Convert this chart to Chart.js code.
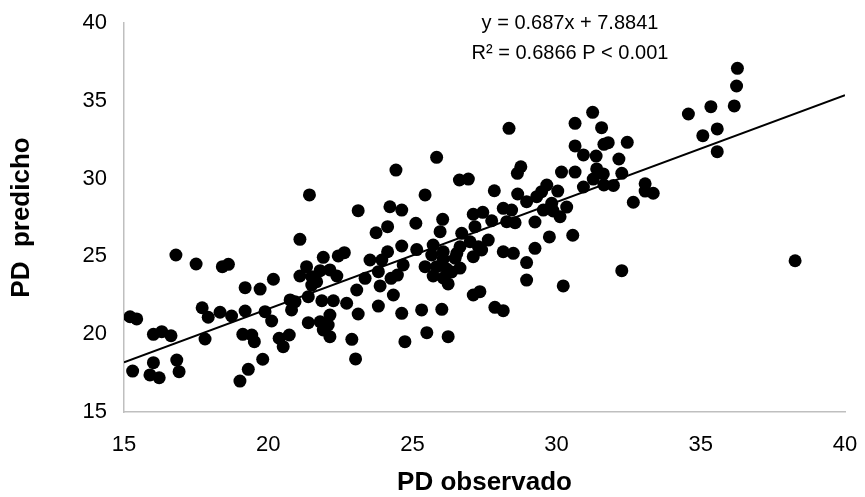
<!DOCTYPE html>
<html>
<head>
<meta charset="utf-8">
<script src="https://cdn.jsdelivr.net/npm/chart.js@4/dist/chart.umd.min.js"></script>
<style>
html,body{margin:0;padding:0;background:#fff;}
#wrap{width:865px;height:497px;}
</style>
</head>
<body>
<div id="wrap"><canvas id="c" width="865" height="497"></canvas></div>
<script>
const pdObservado = [16.80,17.50,18.41,18.62,20.18,19.20,19.72,15.21,15.44,17.71,17.92,18.33,18.73,19.20,19.89,20.12,16.02,16.31,16.63,17.81,19.12,19.43,19.52,20.38,20.73,20.52,16.02,16.83,15.30,15.90,16.22,16.91,19.81,19.31,19.02,20.76,
25.84,24.43,26.63,26.94,21.43,25.44,23.12,24.22,24.63,26.05,25.12,27.11,27.44,25.96,23.74,24.14,21.10,24.63,25.15,25.72,26.71,21.91,22.43,22.64,23.53,24.14,23.94,24.68,21.33,21.10,21.51,21.80,22.14,22.38,21.68,21.51,23.36,23.82,24.26,24.48,23.88,23.07,24.34,23.82,22.72,22.26,21.86,21.39,20.93,20.81,23.12,21.39,21.80,22.14,22.08,21.91,22.14,22.90,
24.63,25.32,26.02,24.74,25.50,26.24,23.03,27.11,27.34,27.86,28.15,
26.07,25.67,26.07,25.44,25.84,26.19,25.72,26.07,26.36,26.65,26.24,26.48,26.65,27.00,27.29,27.63,26.54,27.11,27.40,27.17,27.75,28.27,28.56,28.15,28.44,28.15,28.50,
31.25,30.64,31.56,28.35,30.64,30.93,31.37,31.64,31.79,32.45,32.16,32.26,33.07,33.07,33.35,32.66,30.17,30.64,31.39,31.27,31.62,31.64,31.97,30.93,28.76,28.64,27.84,28.65,29.66,29.48,29.31,30.04,28.96,29.54,29.83,30.35,29.88,30.12,29.25,29.25,28.96,29.75,30.56,28.96,30.23,32.26,
36.27,36.24,36.16,35.35,34.57,35.57,35.07,35.57,38.27];
const pdPredicho = [25.09,24.51,24.34,24.49,23.53,22.99,22.90,21.12,20.98,21.70,21.09,21.41,21.17,21.49,21.45,20.85,19.99,20.16,19.90,19.69,19.99,19.95,19.52,19.74,19.95,19.20,18.17,18.34,17.63,17.38,17.20,17.59,18.39,17.74,16.99,22.20,
31.37,30.55,29.91,29.97,28.95,28.95,27.94,28.19,27.98,27.38,27.13,27.71,27.83,26.59,26.52,26.91,26.10,25.67,25.44,25.73,26.48,24.94,25.03,25.24,24.77,25.30,24.77,24.45,24.34,23.74,23.70,24.08,24.13,23.74,23.37,23.16,23.59,24.02,23.59,23.80,23.10,22.84,22.52,21.81,21.99,22.15,22.15,22.41,22.09,21.56,21.30,20.74,20.80,21.23,20.59,20.27,19.84,19.67,
21.34,21.56,21.60,19.52,20.10,19.84,18.41,22.52,22.73,21.73,21.51,
25.30,25.09,24.83,24.34,24.34,24.19,23.74,23.61,24.00,24.25,23.23,24.88,25.62,25.94,25.62,26.05,25.20,24.98,25.41,26.91,27.29,27.23,27.17,28.09,27.98,25.30,25.20,
34.26,33.55,33.27,33.23,32.10,31.52,31.45,32.20,32.31,32.33,31.26,30.34,29.67,29.20,29.06,28.48,30.42,30.42,30.62,29.97,30.30,29.59,29.56,29.46,30.76,30.34,29.22,29.01,29.59,29.16,28.84,29.20,28.52,27.98,28.41,28.17,27.92,27.55,27.21,25.52,24.60,26.25,26.36,23.48,23.10,24.08,
37.09,35.95,34.67,34.62,34.15,33.19,32.76,31.73,24.72];
const slope = 0.687;
const intercept = 7.8841;
const axisMin = 15, axisMax = 40, axisStep = 5;
const eqLine = 'y = 0.687x + 7.8841';
const r2Line = 'R\u00B2 = 0.6866 P < 0.001';
const xTitle = 'PD observado';
const yTitle = 'PD  predicho';

const points = pdObservado.map((x, i) => ({x: x, y: pdPredicho[i]}));
const trend = [axisMin, axisMax].map(x => ({x: x, y: slope * x + intercept}));

const FONT = "'Liberation Sans', Arial, sans-serif";

const bgPlugin = {
  id: 'bg',
  beforeDraw(chart) {
    const ctx = chart.ctx;
    ctx.save();
    ctx.fillStyle = '#fff';
    ctx.fillRect(0, 0, chart.width, chart.height);
    ctx.restore();
  }
};
const eqPlugin = {
  id: 'eq',
  afterDraw(chart) {
    const ctx = chart.ctx;
    ctx.save();
    ctx.fillStyle = '#000';
    ctx.font = "20px " + FONT;
    ctx.textAlign = 'center';
    ctx.textBaseline = 'middle';
    ctx.fillText(eqLine, 570, 23);
    ctx.fillText(r2Line, 570, 53);
    ctx.restore();
  }
};

new Chart(document.getElementById('c'), {
  type: 'scatter',
  data: {
    datasets: [
      {
        data: points,
        backgroundColor: '#000',
        borderColor: '#000',
        borderWidth: 0,
        pointRadius: 6.5,
        pointHoverRadius: 6.5,
        order: 2
      },
      {
        type: 'line',
        data: trend,
        borderColor: '#000',
        borderWidth: 2,
        pointRadius: 0,
        fill: false,
        tension: 0,
        order: 1
      }
    ]
  },
  options: {
    responsive: false,
    animation: false,
    events: [],
    layout: {padding: {left: 0, top: 23, right: 20, bottom: 0}},
    plugins: {legend: {display: false}, tooltip: {enabled: false}},
    scales: {
      x: {
        type: 'linear',
        min: axisMin, max: axisMax,
        afterFit(s) { s.height = 85; s.paddingLeft = 0; s.paddingRight = 0; },
        ticks: {stepSize: axisStep, color: '#000', font: {size: 22, family: FONT, lineHeight: 1.0}, padding: 0, maxRotation: 0,
                callback: v => ['', String(v)]},
        grid: {color: 'rgba(0,0,0,0)', drawTicks: false},
        border: {display: true, color: '#BFBFBF', width: 1.5},
        title: {display: true, text: xTitle, color: '#000', font: {size: 26, weight: 'bold', family: FONT, lineHeight: 1.0}, padding: {top: 0, bottom: 1}}
      },
      y: {
        type: 'linear',
        min: axisMin, max: axisMax,
        afterFit(s) { s.width = 124; s.paddingTop = 0; s.paddingBottom = 0; },
        ticks: {stepSize: axisStep, color: '#000', font: {size: 22, family: FONT}, padding: 17},
        grid: {color: 'rgba(0,0,0,0)', drawTicks: false},
        border: {display: true, color: '#BFBFBF', width: 1.5},
        title: {display: true, text: yTitle, color: '#000', font: {size: 26, weight: 'bold', family: FONT, lineHeight: 1.0}, padding: {top: 9, bottom: 0}}
      }
    }
  },
  plugins: [bgPlugin, eqPlugin]
});
</script>
</body>
</html>
